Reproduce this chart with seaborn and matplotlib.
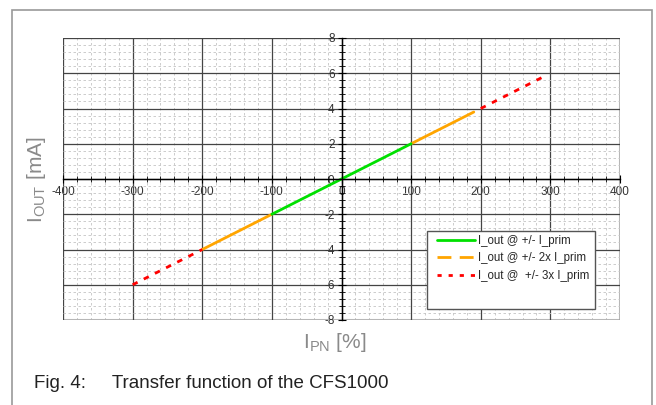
import numpy as np
import pandas as pd
import seaborn as sns
import matplotlib.pyplot as plt
from matplotlib.lines import Line2D
from matplotlib.patches import Rectangle
from matplotlib.ticker import MultipleLocator

# transfer function segments (primary current % -> output mA)
green_x = [-100, 0, 100]
green_y = [-2, 0, 2]
orange_left_x = [-200, -100]
orange_left_y = [-4, -2]
orange_right_x = [100, 190]
orange_right_y = [2, 3.8]
red_left_x = [-300, -200]
red_left_y = [-6, -4]
red_right_x = [200, 295]
red_right_y = [4, 5.9]

legend_labels = ["I_out @ +/- I_prim", "I_out @ +/- 2x I_prim", "I_out @  +/- 3x I_prim"]

sns.set_style("white")
plt.rcParams['font.family'] = ['Liberation Sans', 'DejaVu Sans']
plt.rcParams['axes.unicode_minus'] = False

fig = plt.figure(figsize=(6.56, 4.05), dpi=100)
ax = fig.add_axes([63 / 656, 85 / 405, 557 / 656, 282 / 405])

# outer frame of the figure
fig.patches.append(Rectangle((12 / 656, -0.05), 640 / 656, 0.05 + 395 / 405,
                             transform=fig.transFigure, fill=False,
                             edgecolor="#999999", linewidth=1.2))

def seg(x, y, color, ls, lw=2):
    d = pd.DataFrame({"x": x, "y": y})
    sns.lineplot(data=d, x="x", y="y", ax=ax, color=color, linestyle=ls,
                 linewidth=lw, sort=False, estimator=None)

seg(orange_left_x, orange_left_y, "#ffa500", "-")
seg(orange_right_x, orange_right_y, "#ffa500", "-")
seg(red_left_x, red_left_y, "#ff0000", (0, (2, 2.5)))
seg(red_right_x, red_right_y, "#ff0000", (0, (2, 2.5)))
seg(green_x, green_y, "#00e000", "-")

ax.set_xlim(-400, 400)
ax.set_ylim(-8, 8)
ax.xaxis.set_major_locator(MultipleLocator(100))
ax.xaxis.set_minor_locator(MultipleLocator(20))
ax.yaxis.set_major_locator(MultipleLocator(2))
ax.yaxis.set_minor_locator(MultipleLocator(0.4))

ax.grid(which="minor", color="#c4c4c4", linestyle=(0, (3, 3)), linewidth=0.6)
ax.grid(which="major", color="#444444", linestyle="-", linewidth=0.9)
ax.set_axisbelow(True)

ax.spines["left"].set_position(("data", 0))
ax.spines["bottom"].set_position(("data", 0))
for s in ["left", "bottom"]:
    ax.spines[s].set_color("black")
    ax.spines[s].set_linewidth(1.0)
for s in ["top", "right"]:
    ax.spines[s].set_visible(False)
ax.add_patch(Rectangle((0, 0), 1, 1, transform=ax.transAxes, fill=False,
                       edgecolor="#c8c8c8", linewidth=1.5, zorder=0.5))

ax.tick_params(which="both", direction="inout", color="black", labelsize=8.5,
               labelcolor="#333333", bottom=True, left=True)
ax.tick_params(which="major", length=6, pad=2)
ax.tick_params(which="minor", length=4)
ax.set_xlabel("")
ax.set_ylabel("")

# legend box (taller than its entries, as in the original)
ax.add_patch(Rectangle((364 / 557, 11 / 282), 168 / 557, 78 / 282,
                       transform=ax.transAxes, facecolor="white",
                       edgecolor="#555555", linewidth=1.0, zorder=3))
handles = [Line2D([], [], color="#00e000", linewidth=2),
           Line2D([], [], color="#ffa500", linewidth=2, linestyle=(0, (5, 3))),
           Line2D([], [], color="#ff0000", linewidth=2, linestyle=(0, (1.5, 2.5)))]
leg = ax.legend(handles, legend_labels, loc="upper left",
                bbox_to_anchor=(372 / 557, 87 / 282), fontsize=8.3,
                frameon=False, borderaxespad=0, handlelength=3.3,
                handletextpad=0.2, labelspacing=0.45, borderpad=0.2)
leg.set_zorder(4)

fig.text(36 / 656, 1 - 180 / 405, r"I$_\mathregular{OUT}$ [mA]", rotation=90,
         ha="center", va="center", fontsize=15, color="#8a8a8a")
fig.text(335 / 656, 1 - 343 / 405, r"I$_\mathregular{PN}$ [%]",
         ha="center", va="center", fontsize=15, color="#8a8a8a")
fig.text(34 / 656, 1 - 383 / 405, "Fig. 4:     Transfer function of the CFS1000",
         ha="left", va="center", fontsize=13.5, color="#222222")

fig.savefig("out.png", dpi=100)
